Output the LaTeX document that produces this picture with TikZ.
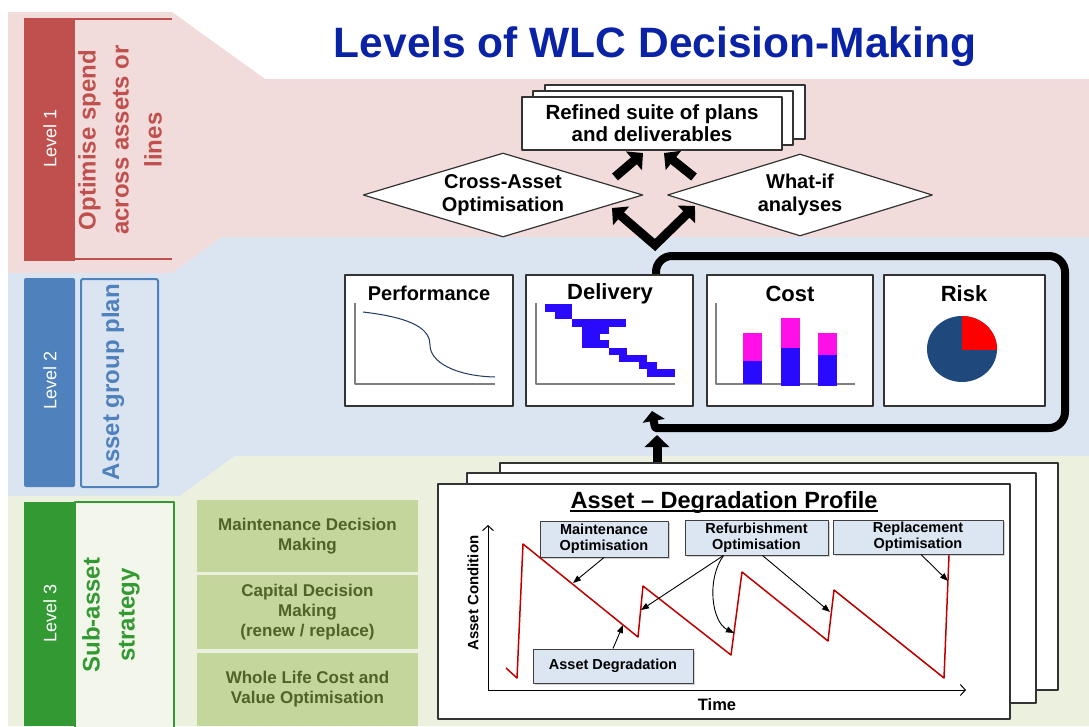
\documentclass[tikz,border=0pt]{standalone}
\usepackage{fontspec}
\setmainfont{Liberation Sans}
\usetikzlibrary{shapes.geometric,arrows.meta,shadows}
\definecolor{bandpink}{HTML}{F2DCDB}
\definecolor{bandblue}{HTML}{DBE5F1}
\definecolor{bandgreen}{HTML}{EBF1DE}
\definecolor{lvred}{HTML}{C0504D}
\definecolor{lvblue}{HTML}{4F81BD}
\definecolor{lvgreen}{HTML}{339933}
\definecolor{boxgreen}{HTML}{C3D69B}
\definecolor{olivetext}{HTML}{4F6228}
\definecolor{titleblue}{HTML}{0A22A6}
\definecolor{barblue}{HTML}{2A0AFF}
\definecolor{barpink}{HTML}{FF10E8}
\definecolor{pienavy}{HTML}{1F497D}
\definecolor{curveblue}{HTML}{1F3864}
\definecolor{calloutfill}{HTML}{DCE6F2}
\definecolor{degred}{HTML}{C00000}
\newcommand{\fsz}[2]{\fontsize{#1}{#2}\selectfont}
\begin{document}
\begin{tikzpicture}[x=1pt, y=-1pt, line join=round,
  sidetext/.style={rotate=90, font=\bfseries\fsz{24}{33}, align=center},
  leveltext/.style={rotate=90, text=white, font=\fsz{18}{20}},
  greenbox/.style={fill=boxgreen, text=olivetext, font=\bfseries\fsz{17}{20}, align=center, minimum width=221, inner sep=0},
  sheet/.style={draw=black!80, fill=white, line width=1.2},
  chartbox/.style={sheet, inner sep=0},
  charttitle/.style={font=\bfseries\fsz{22}{24}},
  chartaxis/.style={draw=gray, line width=1.2},
  callout/.style={draw=black!75, fill=calloutfill, line width=1, inner sep=0, font=\bfseries\fsz{14.5}{16}, align=center, drop shadow={shadow xshift=2pt, shadow yshift=-2pt, opacity=0.35}},
  bigarrow/.style={line width=9, >={Triangle[width=24pt,length=12pt]}, ->},
  thinarrow/.style={line width=0.9, -{Triangle[width=6pt,length=8pt]}}]
\useasboundingbox (0,0) rectangle (1089,726);
\fill[white] (0,0) rectangle (1089,726);
% bands
\fill[bandpink] (8,12) -- (172,12) -- (265,79) -- (1089,79) -- (1089,237) -- (222,237) -- (172,273) -- (8,273) -- cycle;
\fill[bandblue] (8,273) -- (172,273) -- (222,237) -- (1089,237) -- (1089,456) -- (235,456) -- (180,496) -- (8,496) -- cycle;
\fill[bandgreen] (8,496) -- (180,496) -- (235,456) -- (1089,456) -- (1089,726) -- (8,726) -- cycle;
% level labels
\fill[lvred] (24,18) rectangle (75,261);
\draw[lvred, line width=1.8] (75,19) -- (172,19);
\draw[lvred, line width=1.8] (75,259) -- (172,259);
\node[leveltext] (lv1) at (50,138) {Level 1};
\node[sidetext, text=lvred] (lv1t) at (120,140) {Optimise spend\\across assets or\\lines};
\fill[lvblue, rounded corners=2] (24,278) rectangle (75,487);
\draw[lvblue, line width=2, rounded corners=2] (81,279) rectangle (158,487);
\node[leveltext] (lv2) at (50,380) {Level 2};
\node[sidetext, text=lvblue] (lv2t) at (113,382) {Asset group plan};
\fill[lvgreen] (24,502) rectangle (75,726);
\draw[lvgreen, line width=2, fill=bandgreen!60!white] (75,502) rectangle (174,730);
\node[leveltext] (lv3) at (50,613) {Level 3};
\node[sidetext, text=lvgreen, font=\bfseries\fsz{24}{35}] (lv3t) at (111,615) {Sub-asset\\strategy};
% level 3 decision boxes
\node[greenbox, minimum height=72] (gb1) at (307.5,536) {\raisebox{-2pt}{\parbox{210pt}{\centering Maintenance Decision\\Making}}};
\node[greenbox, minimum height=74] (gb2) at (307.5,612) {\raisebox{-2pt}{\parbox{210pt}{\centering Capital Decision\\Making\\(renew / replace)}}};
\node[greenbox, minimum height=73] (gb3) at (307.5,689.5) {Whole Life Cost and\\Value Optimisation};
% title
\node[font=\bfseries\fsz{42.5}{46}, text=titleblue] (title) at (655,47) {Levels of WLC Decision-Making};
% level 1
\draw[sheet] (545,85) rectangle (805,139);
\draw[sheet] (533,91) rectangle (793,145);
\node[sheet, minimum width=260, minimum height=53, font=\bfseries\fsz{20.5}{22}, align=center] (plans) at (652,123.5) {Refined suite of plans\\and deliverables};
\node[sheet, diamond, aspect=3.4, inner sep=0, minimum width=277, minimum height=84, font=\bfseries\fsz{20}{23}, align=center] (cross) at (503,195) {\raisebox{3pt}{\parbox{140pt}{\centering Cross-Asset\\Optimisation}}};
\node[sheet, diamond, aspect=3.4, inner sep=0, minimum width=265, minimum height=82, font=\bfseries\fsz{20}{23}, align=center] (whatif) at (800,195) {\raisebox{3pt}{\parbox{120pt}{\centering What-if\\analyses}}};
\coordinate (crossout) at (615,177);
\coordinate (whatout) at (694,177);
\coordinate (plansinA) at (643,153);
\coordinate (plansinB) at (664,153);
\coordinate (vleft) at (612,208);
\coordinate (vapex) at (655,245);
\coordinate (vright) at (695,206);
\draw[bigarrow] (crossout) -- (plansinA);
\draw[bigarrow] (whatout) -- (plansinB);
\draw[bigarrow, <->, line join=miter] (vleft) -- (vapex) -- (vright);
% level 2 loop
\draw[line width=8, rounded corners=16, -{Triangle[width=22pt,length=10pt]}] (656,280) -- (656,256) -- (1065,256) -- (1065,428) -- (672,428) .. controls (655,428) .. (652,411);
% level 2 charts
\node[chartbox, minimum width=168, minimum height=131] (perf) at (429,340.5) {};
\node[chartbox, minimum width=167, minimum height=131] (deliv) at (609.5,340.5) {};
\node[chartbox, minimum width=166, minimum height=131] (cost) at (790,340.5) {};
\node[chartbox, minimum width=161, minimum height=131] (risk) at (964.5,340.5) {};
\node[charttitle, font=\bfseries\fsz{20}{22}] (perfT) at (429,293) {Performance};
\node[charttitle] (delivT) at (610,294) {Delivery};
\node[charttitle] (costT) at (790,294) {Cost};
\node[charttitle] (riskT) at (964,294) {Risk};
% performance
\draw[chartaxis] (355,303) -- (355,384) -- (495,384);
\draw[curveblue, line width=1] (363,312) .. controls (415,318) and (430,330) .. (430,345) .. controls (430,362) and (455,376) .. (495,377);
% delivery
\draw[chartaxis] (536,303) -- (536,384) -- (675,384);
\foreach \xa/\ya/\xb/\yb in {545/304/572/312, 555/312/572/319, 572/319/626/327, 582/327/609/334, 582/334/600/340, 582/340/609/348, 609/348/627/355, 619/355/647/362, 639/362/657/369, 647/369/675/377}
  \fill[barblue] (\xa,\ya) rectangle (\xb,\yb);
% cost
\draw[chartaxis] (716,303) -- (716,384) -- (855,384);
\foreach \xa/\ym/\yb/\ye in {743/333/361/384, 781/318/348/386, 818/333/355/386}{
  \fill[barpink] (\xa,\ym) rectangle (\xa+19,\yb);
  \fill[barblue] (\xa,\yb) rectangle (\xa+19,\ye);}
% risk
\fill[pienavy] (962,349) ellipse [x radius=35, y radius=33];
\begin{scope}
  \clip (962,349) rectangle (1000,312);
  \fill[red] (962,349) ellipse [x radius=35, y radius=33];
\end{scope}
% level 3 profile
\draw[bigarrow] (657,463) -- (657,435);
\draw[sheet] (500,463) rectangle (1058,690);
\draw[sheet] (467,473) rectangle (1036,703);
\node[sheet, minimum width=572, minimum height=235, inner sep=0] (profile) at (724,601.5) {};
\node[font=\bfseries\fsz{23.5}{25}, inner sep=0] (profT) at (724,502) {Asset – Degradation Profile};
\draw[line width=1.6] ([yshift=-3pt]profT.base west) -- ([yshift=-3pt]profT.base east);
\draw[line width=1, -{Straight Barb[length=5pt,width=11pt]}] (488,690) -- (488,525);
\draw[line width=1, -{Straight Barb[length=5pt,width=11pt]}] (488,690) -- (966,690);
\node[rotate=90, font=\bfseries\fsz{15}{17}] (condL) at (473,593) {Asset Condition};
\node[font=\bfseries\fsz{16.5}{18}] (timeL) at (717,705) {Time};
\draw[degred, line width=1.5] (506,668) -- (517,678) -- (523,544) -- (638,637) -- (643,586) -- (731,655) -- (742,572) -- (828,641) -- (834,590) -- (944,678) -- (949,555);
\coordinate (maintpt) at (573,583);
\coordinate (refpt1) at (641,610);
\coordinate (refpt2) at (734,633);
\coordinate (refpt3) at (830,612);
\coordinate (replpt) at (948,581);
\coordinate (degpt) at (623,625);
% callouts
\node[callout, minimum width=128, minimum height=36] (maint) at (604,539) {Maintenance\\Optimisation};
\node[callout, minimum width=143, minimum height=35] (refurb) at (756.5,537.5) {Refurbishment\\Optimisation};
\node[callout, minimum width=170, minimum height=34] (replace) at (918,537) {Replacement\\Optimisation};
\node[callout, minimum width=160, minimum height=34] (degr) at (613,666) {Asset Degradation};
\draw[thinarrow] (maint.south) -- (maintpt);
\draw[thinarrow] ([xshift=-33pt]refurb.south) -- (refpt1);
\draw[thinarrow] ([xshift=-33pt]refurb.south) .. controls (706,580) and (712,622) .. (refpt2);
\draw[thinarrow] ([xshift=6pt]refurb.south) -- (refpt3);
\draw[thinarrow] ([xshift=3pt]replace.south) -- (replpt);
\draw[thinarrow] (degr.north) -- (degpt);
\end{tikzpicture}
\end{document}
